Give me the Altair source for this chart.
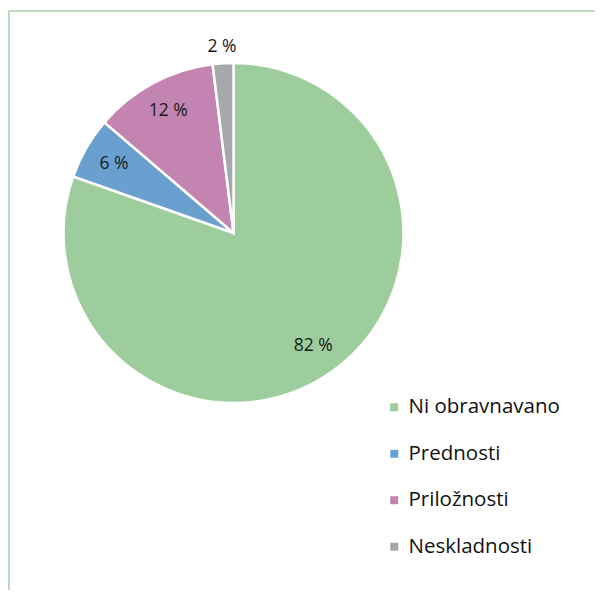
import altair as alt
import pandas as pd

categories = ["Ni obravnavano", "Prednosti", "Priložnosti", "Neskladnosti"]
values = [82, 6, 12, 2]
labels = ["82 %", "6 %", "12 %", "2 %"]
colors = ["#9dcd9d", "#6aa0d0", "#c384b1", "#a6a9ab"]

df = pd.DataFrame({
    "cat": categories,
    "value": values,
    "label": labels,
    "idx": list(range(len(categories))),
    "outside": [False, False, False, True],
})

CX, CY, R = 225.5, 225, 170
FONT = "Open Sans"

base = alt.Chart(df).encode(
    theta=alt.Theta("value:Q", stack=True),
    order=alt.Order("idx:Q"),
    x=alt.value(CX),
    y=alt.value(CY),
)

pie = base.mark_arc(outerRadius=R, stroke="white", strokeWidth=2.5).encode(
    color=alt.Color(
        "cat:N",
        scale=alt.Scale(domain=categories, range=colors),
        sort=categories,
        legend=alt.Legend(
            title=None,
            orient="none",
            legendX=376,
            legendY=389,
            symbolType="square",
            symbolSize=64,
            symbolStrokeWidth=0,
            labelFont=FONT,
            labelFontSize=20.5,
            labelColor="#111111",
            labelOffset=4,
            rowPadding=25.5,
            padding=0,
        ),
    )
)

inner = base.mark_text(radius=138, font=FONT, fontSize=17.5, color="#1a1a1a").encode(
    text="label:N",
    opacity=alt.condition("datum.outside", alt.value(0), alt.value(1)),
)
outer = base.mark_text(radius=186, font=FONT, fontSize=17.5, color="#1a1a1a").encode(
    text="label:N",
    opacity=alt.condition("datum.outside", alt.value(1), alt.value(0)),
)

frame_df = pd.DataFrame({"k": [0]})
vline = alt.Chart(frame_df).mark_rule(color="#a9cea8", strokeWidth=1.5).encode(
    x=alt.value(1), y=alt.value(3), y2=alt.value(600)
)
hline = alt.Chart(frame_df).mark_rule(color="#a9cea8", strokeWidth=1.5).encode(
    x=alt.value(1), x2=alt.value(600), y=alt.value(3)
)

chart = alt.layer(pie, inner, outer, vline, hline).properties(
    width=587, height=582, padding=0, autosize=alt.AutoSizeParams(type="none")
).configure_view(stroke=None)

chart.save("out.html", embed_options={"renderer": "svg", "actions": False})
